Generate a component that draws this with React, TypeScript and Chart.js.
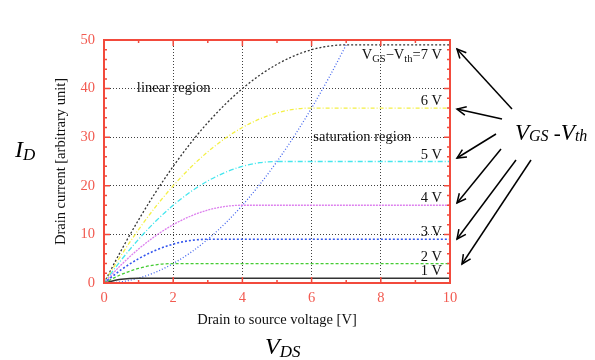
import React, { useEffect, useRef } from "react";
import { Chart, registerables } from "chart.js";
Chart.register(...registerables);

// Drain-source voltage samples [V]
const vds = [0, 0.5, 1, 1.5, 2, 2.5, 3, 3.5, 4, 4.5, 5, 5.5, 6, 6.5, 7, 10];
// Drain currents for VGS-Vth = 1..7 V
const id1 = [0, 0.75, 1, 1, 1, 1, 1, 1, 1, 1, 1, 1, 1, 1, 1, 1];
const id2 = [0, 1.75, 3, 3.75, 4, 4, 4, 4, 4, 4, 4, 4, 4, 4, 4, 4];
const id3 = [0, 2.75, 5, 6.75, 8, 8.75, 9, 9, 9, 9, 9, 9, 9, 9, 9, 9];
const id4 = [0, 3.75, 7, 9.75, 12, 13.75, 15, 15.75, 16, 16, 16, 16, 16, 16, 16, 16];
const id5 = [0, 4.75, 9, 12.75, 16, 18.75, 21, 22.75, 24, 24.75, 25, 25, 25, 25, 25, 25];
const id6 = [0, 5.75, 11, 15.75, 20, 23.75, 27, 29.75, 32, 33.75, 35, 35.75, 36, 36, 36, 36];
const id7 = [0, 6.75, 13, 18.75, 24, 28.75, 33, 36.75, 40, 42.75, 45, 46.75, 48, 48.75, 49, 49];
// Boundary between linear and saturation region
const boundaryV = [0, 0.5, 1, 1.5, 2, 2.5, 3, 3.5, 4, 4.5, 5, 5.5, 6, 6.5, 7];
const boundaryI = [0, 0.25, 1, 2.25, 4, 6.25, 9, 12.25, 16, 20.25, 25, 30.25, 36, 42.25, 49];

const curveLabels = ["1 V", "2 V", "3 V", "4 V", "5 V", "6 V", "7 V"];
const satLevels = [1, 4, 9, 16, 25, 36, 49];

const SERIF = "'Liberation Serif', 'Times New Roman', serif";
const RED = "#f24a3c";
const TICKRED = "#f25a50";

function pts(xs: number[], ys: number[]) {
  return xs.map((x, i) => ({ x, y: ys[i] }));
}

function arrow(ctx: CanvasRenderingContext2D, x1: number, y1: number, x2: number, y2: number) {
  ctx.beginPath();
  ctx.moveTo(x1, y1);
  ctx.lineTo(x2, y2);
  ctx.stroke();
  const a = Math.atan2(y2 - y1, x2 - x1);
  const L = 10, w = 0.45;
  ctx.beginPath();
  ctx.moveTo(x2 - L * Math.cos(a - w), y2 - L * Math.sin(a - w));
  ctx.lineTo(x2, y2);
  ctx.lineTo(x2 - L * Math.cos(a + w), y2 - L * Math.sin(a + w));
  ctx.stroke();
}

// draw sequence of [text, sizePx, italic, dy] pieces starting at x
function drawRich(ctx: CanvasRenderingContext2D, parts: [string, number, boolean, number][], x: number, y: number, align: "left" | "right") {
  const widths = parts.map(([t, s, it]) => {
    ctx.font = `${it ? "italic " : ""}${s}px ${SERIF}`;
    return ctx.measureText(t).width;
  });
  const total = widths.reduce((a, b) => a + b, 0);
  let cx = align === "right" ? x - total : x;
  ctx.textAlign = "left";
  ctx.textBaseline = "alphabetic";
  parts.forEach(([t, s, it, dy], i) => {
    ctx.font = `${it ? "italic " : ""}${s}px ${SERIF}`;
    ctx.fillText(t, cx, y + dy);
    cx += widths[i];
  });
}

const decorPlugin = {
  id: "decor",
  afterDatasetsDraw(chart: any) {
    const { ctx, chartArea: a, scales } = chart;
    const xs = scales.x, ys = scales.y;
    ctx.save();
    // inner ticks
    ctx.strokeStyle = RED;
    ctx.lineWidth = 1.5;
    for (let v = 0; v <= 10; v += 1) {
      const px = xs.getPixelForValue(v);
      const len = v % 2 === 0 ? 6 : 3;
      ctx.beginPath();
      ctx.moveTo(px, a.bottom); ctx.lineTo(px, a.bottom - len);
      ctx.moveTo(px, a.top); ctx.lineTo(px, a.top + len);
      ctx.stroke();
    }
    for (let v = 0; v <= 50; v += 2) {
      const py = ys.getPixelForValue(v);
      const len = v % 10 === 0 ? 6 : 3;
      ctx.beginPath();
      ctx.moveTo(a.left, py); ctx.lineTo(a.left + len, py);
      ctx.moveTo(a.right, py); ctx.lineTo(a.right - len, py);
      ctx.stroke();
    }
    // frame
    ctx.lineWidth = 2;
    ctx.strokeRect(a.left, a.top, a.right - a.left, a.bottom - a.top);

    // annotations
    ctx.fillStyle = "#111";
    ctx.font = `14.5px ${SERIF}`;
    ctx.textAlign = "left";
    ctx.textBaseline = "middle";
    ctx.fillText("linear region", xs.getPixelForValue(0.95), ys.getPixelForValue(40));
    ctx.fillText("saturation region", xs.getPixelForValue(6.05), ys.getPixelForValue(30));

    // curve labels
    const rx = a.right - 8;
    satLevels.forEach((lvl, i) => {
      const py = ys.getPixelForValue(lvl);
      if (i === 6) {
        drawRich(ctx, [["V", 14.5, false, 0], ["GS", 10.5, false, 3], ["\u2212V", 14.5, false, 0], ["th", 10.5, false, 3], ["=7 V", 14.5, false, 0]], rx, py + 14, "right");
      } else {
        drawRich(ctx, [[curveLabels[i], 14.5, false, 0]], rx, py - 3, "right");
      }
    });

    // big symbols
    ctx.fillStyle = "#000";
    drawRich(ctx, [["V", 23, true, 0], ["GS", 16, true, 1], [" -", 21, false, 0], ["V", 23, true, 0], ["th", 16, true, 1]], 515, 140, "left");
    drawRich(ctx, [["I", 24, true, 0], ["D", 17, true, 3]], 15, 157, "left");
    drawRich(ctx, [["V", 24, true, 0], ["DS", 17, true, 3]], 265, 354, "left");

    // arrows
    ctx.strokeStyle = "#000";
    ctx.lineWidth = 1.5;
    arrow(ctx, 512, 109, 457, 49);
    arrow(ctx, 502, 119, 457, 109);
    arrow(ctx, 496, 134, 457, 158);
    arrow(ctx, 501, 149, 457, 203);
    arrow(ctx, 516, 160, 457, 239);
    arrow(ctx, 531, 160, 462, 264);
    ctx.restore();
  },
};

export default function App() {
  const ref = useRef<HTMLCanvasElement>(null);
  useEffect(() => {
    document.body.style.margin = "0";
    const mk = (data: { x: number; y: number }[], color: string, dash: number[], width = 1.3) => ({
      data,
      borderColor: color,
      borderDash: dash,
      borderWidth: width,
      pointRadius: 0,
      fill: false,
      cubicInterpolationMode: "monotone" as const,
    });
    const chart = new Chart(ref.current!, {
      type: "line",
      data: {
        datasets: [
          mk(pts(vds, id1), "#333333", [], 1.5),
          mk(pts(vds, id2), "#44cc33", [3, 2]),
          mk(pts(vds, id3), "#3355ee", [2, 2], 1.6),
          mk(pts(vds, id4), "#dd80ee", [2, 1]),
          mk(pts(vds, id5), "#44e6ee", [5, 2, 1, 2]),
          mk(pts(vds, id6), "#f4f044", [4, 2, 1, 2]),
          mk(pts(vds, id7), "#333333", [2, 2]),
          mk(pts(boundaryV, boundaryI), "#4466ee", [1, 2]),
        ],
      },
      options: {
        responsive: false,
        animation: false,
        parsing: true,
        layout: { padding: { top: 40, right: 145, left: 0, bottom: 0 } },
        plugins: { legend: { display: false }, tooltip: { enabled: false } },
        scales: {
          x: {
            type: "linear",
            min: 0,
            max: 10,
            afterFit: (s: any) => { s.height = 77; },
            ticks: { stepSize: 2, color: TICKRED, font: { family: SERIF, size: 14.5 }, padding: 6, maxRotation: 0 },
            grid: { color: "rgba(0,0,0,0.75)", drawTicks: false, lineWidth: 1 },
            border: { display: false, dash: [1, 2] },
            title: { display: true, text: "Drain to source voltage [V]", color: "#111", font: { family: SERIF, size: 14.5 }, padding: { bottom: 31, top: 0 } },
          },
          y: {
            type: "linear",
            min: 0,
            max: 50,
            afterFit: (s: any) => { s.width = 104; },
            ticks: { stepSize: 10, color: TICKRED, font: { family: SERIF, size: 14.5 }, padding: 9 },
            grid: { color: "rgba(0,0,0,0.75)", drawTicks: false, lineWidth: 1 },
            border: { display: false, dash: [1, 2] },
            title: { display: true, text: "Drain current [arbitrary unit]", color: "#111", font: { family: SERIF, size: 14.5 }, padding: { top: 52, bottom: 0 } },
          },
        },
      },
      plugins: [decorPlugin],
    });
    return () => chart.destroy();
  }, []);
  return (
    <div style={{ width: 595, height: 360, position: "relative", background: "#fff" }}>
      <canvas ref={ref} width={595} height={360} />
    </div>
  );
}
